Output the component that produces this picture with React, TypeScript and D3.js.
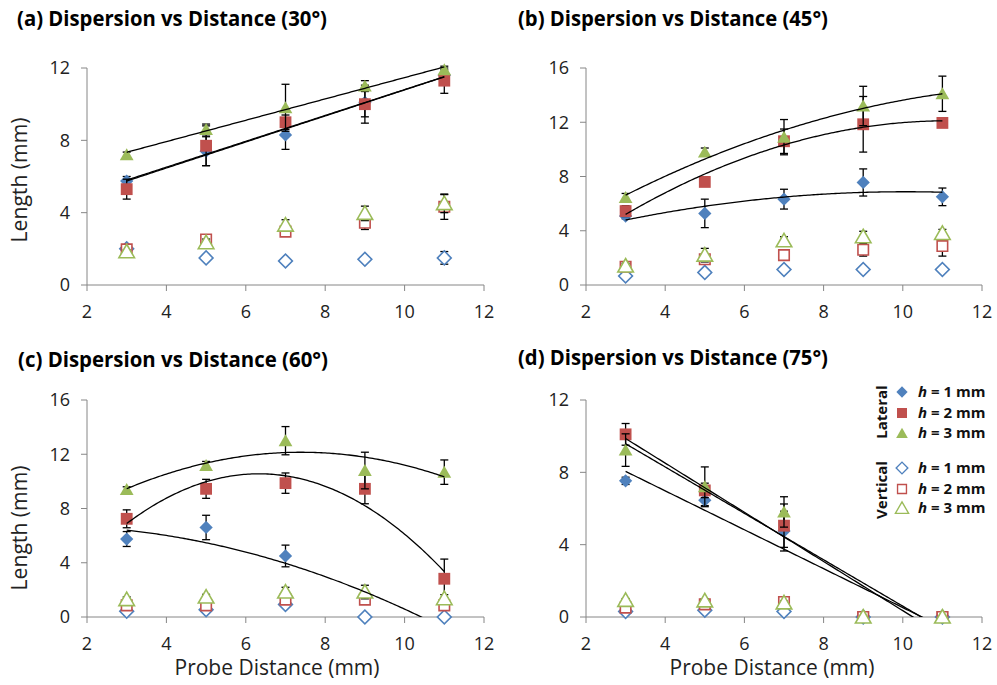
import React from 'react';
import * as d3 from 'd3';

// probe distances (mm) and axis ticks
const distances = [3, 5, 7, 9, 11];
const xTicks = [2, 4, 6, 8, 10, 12];
const yTicksByPanel = [[0, 4, 8, 12], [0, 4, 8, 12, 16], [0, 4, 8, 12, 16], [0, 4, 8, 12]];
const titles = [
  '(a) Dispersion vs Distance (30°)',
  '(b) Dispersion vs Distance (45°)',
  '(c) Dispersion vs Distance (60°)',
  '(d) Dispersion vs Distance (75°)',
];
const heightLabels = ['1', '2', '3'];
const fitOrders = [1, 2, 2, 1];

// lateral dispersion, rows = h 1/2/3 mm
const lateral30 = [[5.75, 7.4, 8.3, 10.1, 11.6], [5.3, 7.7, 9.0, 10.0, 11.3], [7.2, 8.6, 9.8, 11.0, 11.9]];
const lateralErr30 = [[0.25, 0.8, 0.8, 0.8, 0.3], [0.55, 1.1, 0.4, 1.05, 0.7], [0.15, 0.3, 1.3, 0.3, 0.2]];
const vertical30 = [[2.0, 1.5, 1.33, 1.42, 1.5], [1.97, 2.52, 2.95, 3.44, 4.33], [1.84, 2.34, 3.31, 3.96, 4.5]];
const verticalErr30 = [[0.1, 0.1, 0.1, 0.1, 0.35], [0.1, 0.2, 0.2, 0.37, 0.7], [0.1, 0.2, 0.3, 0.4, 0.5]];

const lateral45 = [[5.08, 5.28, 6.33, 7.56, 6.5], [5.45, 7.6, 10.6, 11.85, 11.95], [6.45, 9.8, 10.9, 13.2, 14.1]];
const lateralErr45 = [[0.2, 1.05, 0.73, 1.0, 0.65], [0.4, 0.2, 0.9, 2.05, 0.2], [0.3, 0.3, 1.3, 1.45, 1.3]];
const vertical45 = [[0.66, 0.93, 1.15, 1.15, 1.15], [1.35, 1.9, 2.2, 2.6, 2.87], [1.4, 2.2, 3.26, 3.56, 3.8]];
const verticalErr45 = [[0.1, 0.1, 0.1, 0.1, 0.1], [0.2, 0.3, 0.2, 0.47, 0.74], [0.2, 0.5, 0.3, 0.4, 0.3]];

const lateral60 = [[5.75, 6.6, 4.5, 0, 0], [7.24, 9.45, 9.87, 9.45, 2.82], [9.4, 11.17, 13.0, 10.8, 10.68]];
const lateralErr60 = [[0.55, 0.9, 0.8, 0, 0], [0.66, 0.7, 0.75, 1.1, 1.45], [0.2, 0.3, 1.04, 1.35, 0.9]];
const vertical60 = [[0.42, 0.54, 0.93, 0, 0], [0.86, 0.86, 1.28, 1.28, 0.86], [1.28, 1.47, 1.84, 1.84, 1.35]];
const verticalErr60 = [[0.1, 0.1, 0.1, 0, 0], [0.2, 0.2, 0.2, 0.3, 0.3], [0.2, 0.2, 0.35, 0.5, 0.3]];

const lateral75 = [[7.53, 6.46, 4.75, 0, 0], [10.1, 7.0, 5.05, 0, 0], [9.23, 7.2, 5.81, 0, 0]];
const lateralErr75 = [[0.2, 0.3, 1.1, 0, 0], [0.6, 0.4, 1.2, 0, 0], [0.9, 1.1, 0.84, 0, 0]];
const vertical75 = [[0.31, 0.37, 0.31, 0, 0], [0.52, 0.7, 0.83, 0, 0], [0.92, 0.89, 0.78, 0, 0]];
const verticalErr75 = [[0.05, 0.05, 0.05, 0, 0], [0.1, 0.1, 0.1, 0, 0], [0.1, 0.1, 0.1, 0, 0]];

const lateralAll = [lateral30, lateral45, lateral60, lateral75];
const lateralErrAll = [lateralErr30, lateralErr45, lateralErr60, lateralErr75];
const verticalAll = [vertical30, vertical45, vertical60, vertical75];
const verticalErrAll = [verticalErr30, verticalErr45, verticalErr60, verticalErr75];

const colors = ['#4F81BD', '#C0504D', '#9BBB59'];
const axisColor = '#868686';
const font = '"Open Sans", "Liberation Sans", sans-serif';

const boxes = [
  { x0: 87, x1: 484, y0: 68, y1: 285 },
  { x0: 586, x1: 982, y0: 68, y1: 285 },
  { x0: 87, x1: 484, y0: 400, y1: 617 },
  { x0: 586, x1: 982, y0: 400, y1: 617 },
];
const titlePos = [[17, 26], [518, 26], [18, 367], [518, 365]];

// least squares polynomial, like an Excel trendline
function polyFit(xs: number[], ys: number[], order: number) {
  const n = order + 1;
  const A = Array.from({ length: n }, () => new Array(n + 1).fill(0));
  xs.forEach((x, k) => {
    for (let i = 0; i < n; i++) {
      for (let j = 0; j < n; j++) A[i][j] += Math.pow(x, i + j);
      A[i][n] += Math.pow(x, i) * ys[k];
    }
  });
  for (let i = 0; i < n; i++) {
    let p = i;
    for (let r = i + 1; r < n; r++) if (Math.abs(A[r][i]) > Math.abs(A[p][i])) p = r;
    [A[i], A[p]] = [A[p], A[i]];
    for (let r = 0; r < n; r++) {
      if (r === i) continue;
      const f = A[r][i] / A[i][i];
      for (let c = i; c <= n; c++) A[r][c] -= f * A[i][c];
    }
  }
  const coef = A.map((row, i) => row[n] / A[i][i]);
  return (x: number) => coef.reduce((s, c, i) => s + c * Math.pow(x, i), 0);
}

const symbolPath = (k: number, open: boolean) => {
  const type = k === 2 ? d3.symbolTriangle : d3.symbolSquare;
  const size = k === 0 ? (open ? 95 : 88) : k === 1 ? (open ? 110 : 140) : (open ? 105 : 82);
  return d3.symbol().type(type).size(size)() as string;
};

function Marker({ k, open, cx, cy, scale = 1 }: { k: number; open: boolean; cx: number; cy: number; scale?: number }) {
  const rot = k === 0 ? ' rotate(45)' : '';
  const dy = k === 2 ? 1.5 : 0;
  return (
    <path
      d={symbolPath(k, open)}
      transform={`translate(${cx},${cy + dy}) scale(${scale})${rot}`}
      fill={open ? '#fff' : colors[k]}
      stroke={colors[k]}
      strokeWidth={open ? 1.6 : 0}
    />
  );
}

function ErrorBars({ x, y, vals, errs }: any) {
  return (
    <g stroke="#000" strokeWidth={1.3}>
      {distances.map((d, i) => {
        if (!errs[i]) return null;
        const px = x(d);
        const top = y(vals[i] + errs[i]);
        const bot = y(Math.max(0, vals[i] - errs[i]));
        return (
          <g key={i}>
            <line x1={px} x2={px} y1={top} y2={bot} />
            <line x1={px - 4} x2={px + 4} y1={top} y2={top} />
            <line x1={px - 4} x2={px + 4} y1={bot} y2={bot} />
          </g>
        );
      })}
    </g>
  );
}

function Panel({ idx }: { idx: number }) {
  const b = boxes[idx];
  const yTicks = yTicksByPanel[idx];
  const x = d3.scaleLinear().domain([2, 12]).range([b.x0, b.x1]);
  const y = d3.scaleLinear().domain([0, yTicks[yTicks.length - 1]]).range([b.y1, b.y0]);
  const lat = lateralAll[idx];
  const vert = verticalAll[idx];
  const line = d3.line<number>().x(d => x(d[0])).y(d => y(d[1]));
  const xs = d3.range(3, 11.0001, 0.05);
  const clipId = `clip${idx}`;

  return (
    <g>
      <defs>
        <clipPath id={clipId}>
          <rect x={b.x0} y={b.y0 - 20} width={b.x1 - b.x0} height={b.y1 - b.y0 + 20} />
        </clipPath>
      </defs>
      <text x={titlePos[idx][0]} y={titlePos[idx][1]} fontFamily={font} fontWeight="bold" fontSize={21}
        textLength={310} lengthAdjust="spacingAndGlyphs">{titles[idx]}</text>

      {/* axes */}
      <g stroke={axisColor} strokeWidth={1}>
        <line x1={b.x0} x2={b.x0} y1={b.y0} y2={b.y1} />
        <line x1={b.x0} x2={b.x1} y1={b.y1} y2={b.y1} />
        {yTicks.map(t => <line key={t} x1={b.x0 - 6} x2={b.x0} y1={y(t)} y2={y(t)} />)}
        {xTicks.map(t => <line key={t} x1={x(t)} x2={x(t)} y1={b.y1} y2={b.y1 + 6} />)}
      </g>
      <g fontFamily={font} fontSize={18} fill="#222">
        {yTicks.map(t => (
          <text key={t} x={b.x0 - 17} y={y(t)} dy="0.36em" textAnchor="end">{t}</text>
        ))}
        {xTicks.map(t => (
          <text key={t} x={x(t)} y={b.y1 + 33} textAnchor="middle">{t}</text>
        ))}
      </g>

      {/* lateral series */}
      {lat.map((vals, k) => (
        <g key={'l' + k}>
          <ErrorBars x={x} y={y} vals={vals} errs={lateralErrAll[idx][k]} />
          {vals.map((v, i) => <Marker key={i} k={k} open={false} cx={x(distances[i])} cy={y(v)} />)}
        </g>
      ))}
      {/* vertical series */}
      {vert.map((vals, k) => (
        <g key={'v' + k}>
          <ErrorBars x={x} y={y} vals={vals} errs={verticalErrAll[idx][k]} />
          {vals.map((v, i) => <Marker key={i} k={k} open cx={x(distances[i])} cy={y(v)} />)}
        </g>
      ))}

      {/* trendlines of lateral series */}
      <g clipPath={`url(#${clipId})`}>
        {lat.map((vals, k) => {
          const f = polyFit(distances, vals, fitOrders[idx]);
          return <path key={k} d={line(xs.map(v => [v, f(v)]) as any) as string} fill="none" stroke="#000" strokeWidth={1.3} />;
        })}
      </g>
    </g>
  );
}

function Legend() {
  const mx = 902;
  const rows = [392, 413, 433, 468, 489, 508];
  return (
    <g fontFamily={font} fontWeight="bold" fontSize={15} fill="#111">
      <text transform="translate(887,412) rotate(-90)" textAnchor="middle">Lateral</text>
      <text transform="translate(887,490) rotate(-90)" textAnchor="middle">Vertical</text>
      {rows.map((ry, r) => {
        const k = r % 3;
        const open = r >= 3;
        return (
          <g key={r}>
            <Marker k={k} open={open} cx={mx} cy={ry} scale={0.85} />
            <text x={918} y={ry + 5}>
              <tspan fontStyle="italic">h</tspan> = {heightLabels[k]} mm
            </text>
          </g>
        );
      })}
    </g>
  );
}

export default function App() {
  return (
    <svg width={997} height={685} style={{ position: 'absolute', left: 0, top: 0, background: '#fff' }}>
      {[0, 1, 2, 3].map(i => <Panel key={i} idx={i} />)}
      <g fontFamily={font} fill="#222">
        <text transform="translate(27,180) rotate(-90)" textAnchor="middle" fontSize={22} textLength={125} lengthAdjust="spacingAndGlyphs">Length (mm)</text>
        <text transform="translate(27,528) rotate(-90)" textAnchor="middle" fontSize={22} textLength={125} lengthAdjust="spacingAndGlyphs">Length (mm)</text>
        <text x={277} y={675} textAnchor="middle" fontSize={21} textLength={205} lengthAdjust="spacingAndGlyphs">Probe Distance (mm)</text>
        <text x={772} y={675} textAnchor="middle" fontSize={21} textLength={205} lengthAdjust="spacingAndGlyphs">Probe Distance (mm)</text>
      </g>
      <Legend />
    </svg>
  );
}
